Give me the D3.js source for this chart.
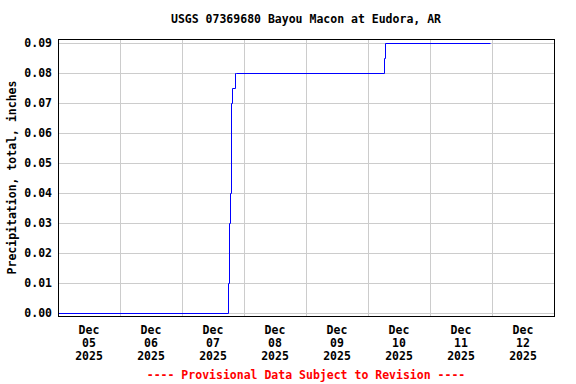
<!DOCTYPE html>
<html><head><meta charset="utf-8">
<script src="https://cdn.jsdelivr.net/npm/d3@7"></script>
<style>
body{margin:0;background:#fff}
text{font-family:"DejaVu Sans Mono",monospace;font-weight:bold}
</style></head>
<body><svg id="c" width="576" height="384"></svg>
<script>
const title = "USGS 07369680 Bayou Macon at Eudora, AR";
const yLabel = "Precipitation, total, inches";
const footer = "---- Provisional Data Subject to Revision ----";
const times = ["2025-12-05T00:00","2025-12-07T17:48","2025-12-07T18:12","2025-12-07T18:35","2025-12-07T18:58","2025-12-07T19:21","2025-12-07T20:30","2025-12-07T20:54","2025-12-10T06:12","2025-12-10T06:35","2025-12-11T23:15"];
const values = [0.00,0.01,0.03,0.04,0.07,0.075,0.08,0.08,0.085,0.09,0.09];
const yTicks = [0,0.01,0.02,0.03,0.04,0.05,0.06,0.07,0.08,0.09];
const dayStarts = ["2025-12-05","2025-12-06","2025-12-07","2025-12-08","2025-12-09","2025-12-10","2025-12-11","2025-12-12","2025-12-13"];

const parse = d3.utcParse("%Y-%m-%dT%H:%M");
const parseDay = d3.utcParse("%Y-%m-%d");
const data = times.map((t,i)=>({t:parse(t), v:values[i]}));
const days = dayStarts.map(parseDay);

const L=58,R=554,T=39,B=316;
const x = d3.scaleUtc().domain([days[0], days[days.length-1]]).range([L,R]);
const y = d3.scaleLinear().domain([-0.001,0.0913]).range([B,T]);

const svg = d3.select("#c");
const g = svg.append("g").attr("transform","translate(0.5,0.5)");

// grid
g.append("g").selectAll("line").data(days.slice(1,-1)).join("line")
 .attr("x1",d=>Math.round(x(d))).attr("x2",d=>Math.round(x(d))).attr("y1",T).attr("y2",B)
 .attr("stroke","#cccccc");
g.append("g").selectAll("line").data(yTicks).join("line")
 .attr("y1",d=>Math.round(y(d))).attr("y2",d=>Math.round(y(d))).attr("x1",L).attr("x2",R)
 .attr("stroke","#cccccc");

// line
const line = d3.line().x(d=>Math.round(x(d.t))).y(d=>Math.round(y(d.v))).curve(d3.curveStepAfter);
g.append("path").datum(data).attr("d",line).attr("fill","none").attr("stroke","#0000ff").attr("stroke-width",1);

// frame
g.append("rect").attr("x",L).attr("y",T).attr("width",R-L).attr("height",B-T)
 .attr("fill","none").attr("stroke","#000").attr("stroke-width",1);

// y axis labels
const yAxis = d3.axisLeft(y).tickValues(yTicks).tickFormat(d3.format(".2f")).tickSize(0).tickPadding(6);
const ya = svg.append("g").attr("transform",`translate(${L},0)`).call(yAxis);
ya.select(".domain").remove();
ya.selectAll("text").attr("font-size","11.5px").attr("fill","#000")
  .attr("font-family","DejaVu Sans Mono").attr("font-weight","bold");

// x axis labels at noon
const noons = days.slice(0,-1).map(d=>d3.utcHour.offset(d,12));
const fmtD = d3.utcFormat("%d"), fmtY = d3.utcFormat("%Y");
const xa = svg.append("g");
const lab = xa.selectAll("text").data(noons).join("text")
  .attr("text-anchor","middle").attr("font-size","11.5px").attr("fill","#000");
lab.append("tspan").attr("x",d=>x(d)).attr("y",334).text("Dec");
lab.append("tspan").attr("x",d=>x(d)).attr("y",347).text(d=>fmtD(d));
lab.append("tspan").attr("x",d=>x(d)).attr("y",360).text(d=>fmtY(d));

// title
svg.append("text").attr("x",(L+R)/2).attr("y",23).attr("text-anchor","middle")
  .attr("font-size","11.5px").attr("fill","#000").text(title);
// y label
svg.append("text").attr("transform",`translate(16,${(T+B)/2}) rotate(-90)`)
  .attr("text-anchor","middle").attr("font-size","11.5px").attr("fill","#000").text(yLabel);
// footer
svg.append("text").attr("x",(L+R)/2).attr("y",379).attr("text-anchor","middle")
  .attr("font-size","11.5px").attr("fill","#ff0000").text(footer);
</script></body></html>
